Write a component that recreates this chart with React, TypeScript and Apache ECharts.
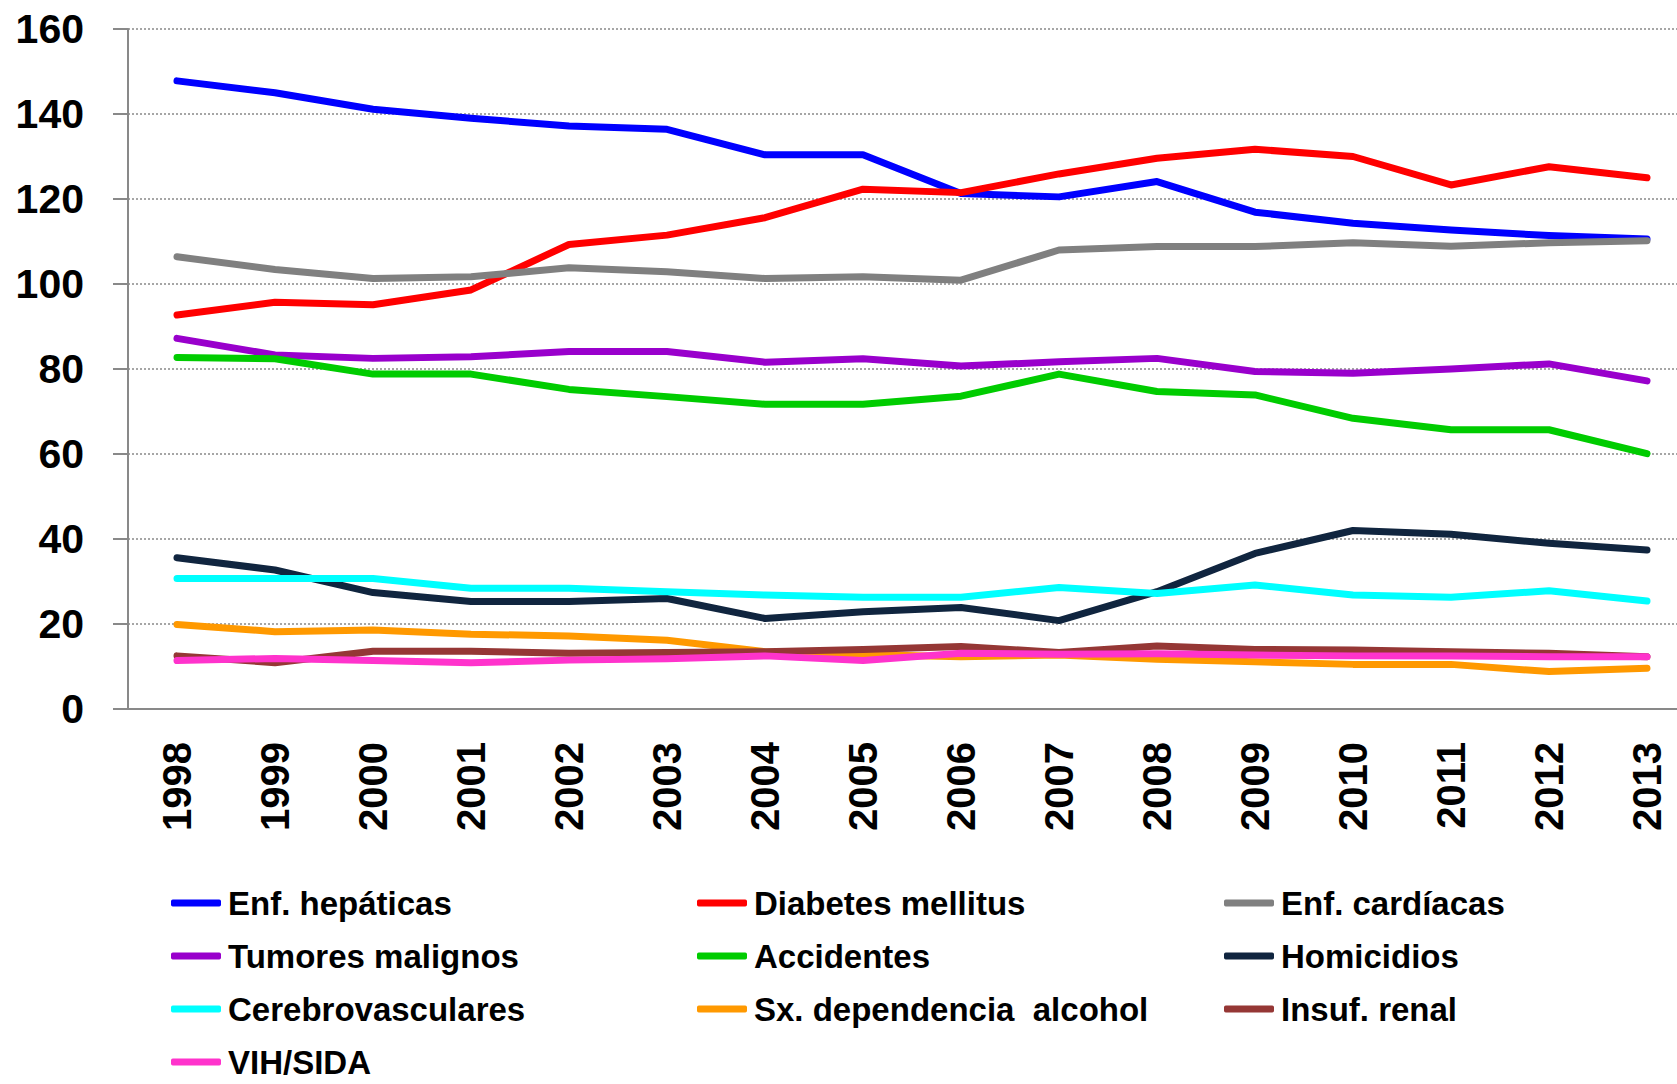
import React, { useEffect, useRef } from "react";
import * as echarts from "echarts";

const years = ["1998","1999","2000","2001","2002","2003","2004","2005","2006","2007","2008","2009","2010","2011","2012","2013"];
const yTicks = [0, 20, 40, 60, 80, 100, 120, 140, 160];

const hepaticas = [147.8,145.0,141.1,139.0,137.2,136.4,130.4,130.4,121.3,120.5,124.1,116.9,114.3,112.7,111.4,110.6];
const diabetes = [92.7,95.7,95.1,98.6,109.3,111.5,115.6,122.3,121.5,125.9,129.6,131.7,130.0,123.3,127.6,125.0];
const cardiacas = [106.4,103.4,101.3,101.7,103.8,102.9,101.3,101.7,100.9,108.0,108.8,108.8,109.7,108.9,109.7,110.2];
const tumores = [87.2,83.3,82.5,82.9,84.1,84.1,81.6,82.4,80.7,81.7,82.5,79.4,79.0,80.0,81.2,77.2];
const accidentes = [82.7,82.4,78.8,78.8,75.2,73.5,71.7,71.7,73.6,78.8,74.7,73.9,68.4,65.7,65.7,60.1];
const homicidios = [35.6,32.7,27.4,25.3,25.3,26.0,21.3,22.9,23.9,20.8,27.6,36.6,42.0,41.1,39.0,37.4];
const cerebro = [30.7,30.7,30.7,28.4,28.4,27.6,26.8,26.3,26.3,28.6,27.2,29.2,26.8,26.3,27.8,25.4];
const alcohol = [19.9,18.2,18.6,17.6,17.2,16.2,13.5,12.8,12.3,12.7,11.7,11.1,10.5,10.5,8.8,9.6];
const renal = [12.5,10.9,13.6,13.6,13.1,13.3,13.5,14.0,14.7,13.3,14.8,14.0,13.9,13.5,13.1,12.3];
const vih = [11.4,11.9,11.4,10.9,11.5,11.8,12.5,11.4,13.1,12.9,13.0,12.7,12.5,12.5,12.3,12.3];

const seriesNames = [
  "Enf. hepáticas",
  "Diabetes mellitus",
  "Enf. cardíacas",
  "Tumores malignos",
  "Accidentes",
  "Homicidios",
  "Cerebrovasculares",
  "Sx. dependencia  alcohol",
  "Insuf. renal",
  "VIH/SIDA",
];
const seriesData = [hepaticas, diabetes, cardiacas, tumores, accidentes, homicidios, cerebro, alcohol, renal, vih];
const seriesColors = ["#0000FF","#FF0000","#808080","#9900CC","#00CC00","#10253F","#00FFFF","#FF9900","#953735","#FF33CC"];

const legendCol1 = ["Enf. hepáticas", "Tumores malignos", "Cerebrovasculares", "VIH/SIDA"];
const legendCol2 = ["Diabetes mellitus", "Accidentes", "Sx. dependencia  alcohol"];
const legendCol3 = ["Enf. cardíacas", "Homicidios", "Insuf. renal"];

const gray = "#898989";
const font = "'Liberation Sans', Arial, sans-serif";

function makeLegend(data: string[], left: number) {
  return {
    data,
    left,
    top: 886.5,
    height: 260,
    width: 500,
    orient: "vertical",
    padding: 0,
    itemGap: 20,
    itemWidth: 50,
    itemHeight: 7,
    icon: "roundRect",
    textStyle: {
      fontFamily: font,
      fontWeight: "bold",
      fontSize: 33,
      color: "#000",
      padding: [0, 0, 0, 2],
    },
  };
}

export default function App() {
  const ref = useRef<HTMLDivElement>(null);
  useEffect(() => {
    if (!ref.current) return;
    const chart = echarts.init(ref.current, undefined, { renderer: "svg" });
    chart.setOption({
      animation: false,
      backgroundColor: "#fff",
      grid: { left: 128, right: 4, top: 29, bottom: 375, containLabel: false },
      legend: [makeLegend(legendCol1, 171), makeLegend(legendCol2, 697), makeLegend(legendCol3, 1224)],
      xAxis: {
        type: "category",
        data: years,
        boundaryGap: true,
        axisLine: { show: true, lineStyle: { color: gray, width: 2 } },
        axisTick: { show: false },
        axisLabel: {
          rotate: 90,
          margin: 33,
          fontFamily: font,
          fontWeight: "bold",
          fontSize: 40,
          color: "#000",
          interval: 0,
        },
        splitLine: { show: false },
      },
      yAxis: {
        type: "value",
        min: yTicks[0],
        max: yTicks[yTicks.length - 1],
        interval: 20,
        axisLine: { show: true, lineStyle: { color: gray, width: 2 } },
        axisTick: { show: true, inside: false, length: 15, lineStyle: { color: gray, width: 2 } },
        axisLabel: {
          margin: 44,
          fontFamily: font,
          fontWeight: "bold",
          fontSize: 41,
          color: "#000",
        },
        splitLine: { show: true, lineStyle: { color: gray, type: [2, 2], width: 1.5 } },
      },
      series: seriesNames.map((name, i) => ({
        name,
        type: "line",
        data: seriesData[i],
        showSymbol: false,
        symbol: "none",
        color: seriesColors[i],
        itemStyle: { color: seriesColors[i] },
        lineStyle: { color: seriesColors[i], width: 7, cap: "round", join: "round" },
        emphasis: { disabled: true },
      })),
    });
    return () => chart.dispose();
  }, []);
  return (
    <div
      style={{ position: "fixed", left: 0, top: 0, width: 1677, height: 1084, overflow: "hidden", background: "#fff" }}
    >
      <div ref={ref} style={{ width: 1700, height: 1084 }} />
    </div>
  );
}
